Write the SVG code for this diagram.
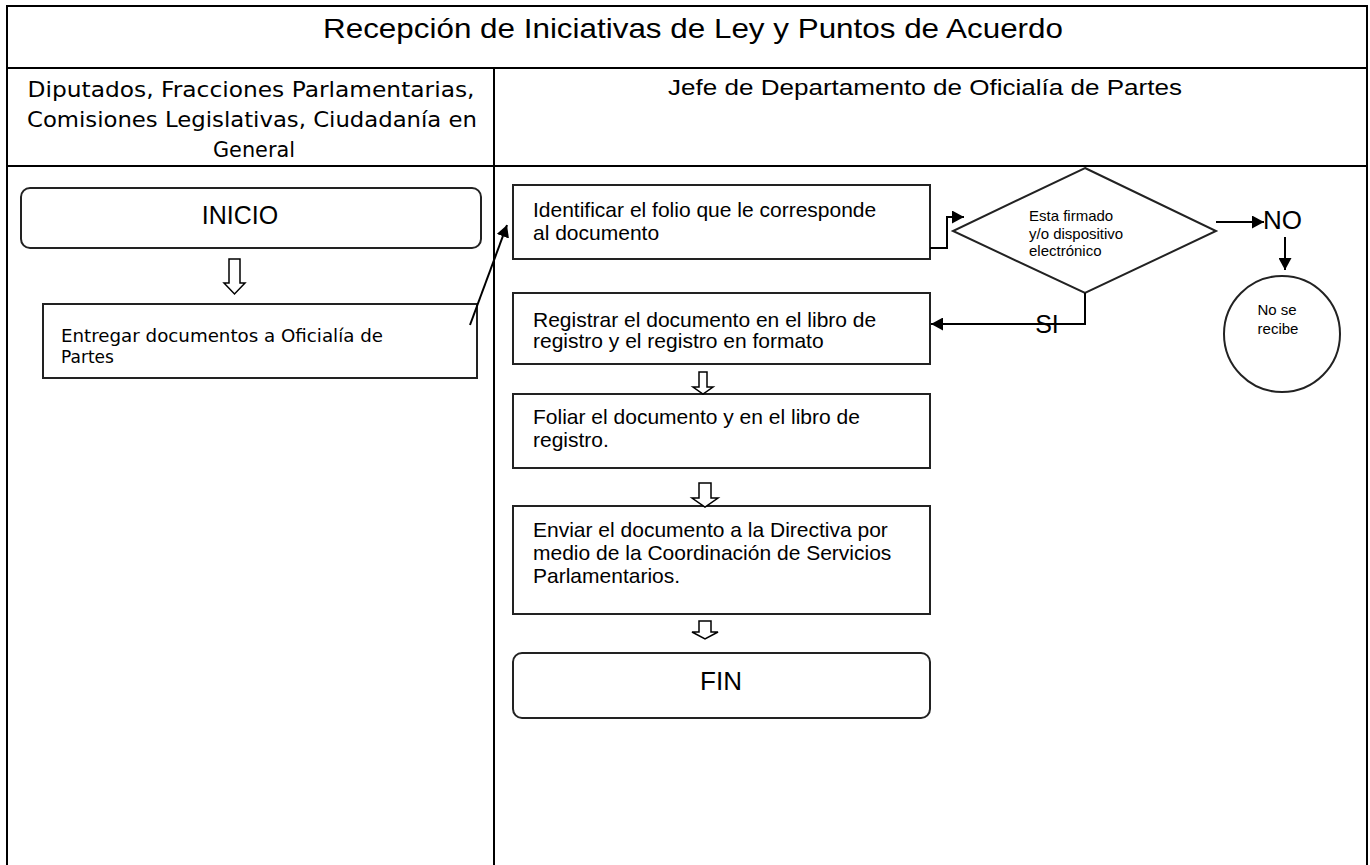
<svg xmlns="http://www.w3.org/2000/svg" width="1370" height="865" viewBox="0 0 1370 865">
<defs>
<style>
.grid{stroke:#000;stroke-width:2;fill:none}
.box{fill:#fff;stroke:#222;stroke-width:2}
.t{font-family:"Liberation Sans",Arial,sans-serif;fill:#000}
.d{font-family:"DejaVu Sans",Verdana,sans-serif;fill:#000}
.con{stroke:#000;stroke-width:2;fill:none}
.hollow{fill:#fff;stroke:#000;stroke-width:1.5}
</style>
<marker id="ah" markerUnits="userSpaceOnUse" markerWidth="13" markerHeight="13" refX="12" refY="6.5" orient="auto">
<path d="M0,0 L12,6.5 L0,13 z" fill="#000"/>
</marker>
</defs>
<rect width="1370" height="865" fill="#fff"/>
<g id="table">
<path class="grid" d="M7,865 V6 H1367 V865 M7,68 H1367 M7,166 H1367 M494,68 V865"/>
<text class="t" x="323" y="38" font-size="28" textLength="740" lengthAdjust="spacingAndGlyphs">Recepción de Iniciativas de Ley y Puntos de Acuerdo</text>
<text class="d" x="251" y="97" font-size="22" text-anchor="middle" textLength="447" lengthAdjust="spacingAndGlyphs">Diputados, Fracciones Parlamentarias,</text>
<text class="d" x="252" y="127" font-size="22" text-anchor="middle" textLength="450" lengthAdjust="spacingAndGlyphs">Comisiones Legislativas, Ciudadanía en</text>
<text class="d" x="254" y="157" font-size="22" text-anchor="middle" textLength="82" lengthAdjust="spacingAndGlyphs">General</text>
<text class="t" x="668" y="95" font-size="22" textLength="514" lengthAdjust="spacingAndGlyphs">Jefe de Departamento de Oficialía de Partes</text>
</g>
<g id="inicio">
<rect class="box" x="21" y="188" width="460" height="60" rx="9"/>
<text class="t" x="240" y="224" font-size="25" text-anchor="middle">INICIO</text>
</g>
<g id="entregar">
<rect class="box" x="43" y="304" width="434" height="74"/>
<text class="d" x="61" y="342" font-size="17" textLength="322" lengthAdjust="spacingAndGlyphs">Entregar documentos a Oficialía de</text>
<text class="d" x="61" y="363" font-size="17">Partes</text>
</g>
<g id="identificar">
<rect class="box" x="513" y="185" width="417" height="74"/>
<text class="t" x="533" y="217" font-size="21">Identificar el folio que le corresponde</text>
<text class="t" x="533" y="240" font-size="21">al documento</text>
</g>
<g id="decision">
<polygon class="box" points="1085,168 1216,231 1085,293 953,231"/>
<text class="t" x="1029" y="221" font-size="15">Esta firmado</text>
<text class="t" x="1029" y="239" font-size="15">y/o dispositivo</text>
<text class="t" x="1029" y="256" font-size="15">electrónico</text>
</g>
<g id="no-label">
<text class="t" x="1263" y="229" font-size="26">NO</text>
</g>
<g id="no-se-recibe">
<circle class="box" cx="1282" cy="334" r="58"/>
<text class="t" x="1277" y="315" font-size="15" text-anchor="middle">No se</text>
<text class="t" x="1278" y="334" font-size="15" text-anchor="middle">recibe</text>
</g>
<g id="registrar">
<rect class="box" x="513" y="293" width="417" height="71"/>
<text class="t" x="533" y="327" font-size="21">Registrar el documento en el libro de</text>
<text class="t" x="533" y="348" font-size="21">registro y el registro en formato</text>
</g>
<g id="foliar">
<rect class="box" x="513" y="394" width="417" height="74"/>
<text class="t" x="533" y="424" font-size="21">Foliar el documento y en el libro de</text>
<text class="t" x="533" y="447" font-size="21">registro.</text>
</g>
<g id="enviar">
<rect class="box" x="513" y="506" width="417" height="108"/>
<text class="t" x="533" y="537" font-size="21">Enviar el documento a la Directiva por</text>
<text class="t" x="533" y="560" font-size="21">medio de la Coordinación de Servicios</text>
<text class="t" x="533" y="583" font-size="21">Parlamentarios.</text>
</g>
<g id="fin">
<rect class="box" x="513" y="653" width="417" height="65" rx="9"/>
<text class="t" x="721" y="690" font-size="26" text-anchor="middle">FIN</text>
</g>
<g id="connectors">
<line class="con" x1="470" y1="325" x2="507" y2="225" marker-end="url(#ah)"/>
<polyline class="con" points="930,248 947,248 947,217 964,217" marker-end="url(#ah)"/>
<polyline class="con" points="1085,293 1085,324 931,324" marker-end="url(#ah)"/>
<line class="con" x1="1216" y1="222" x2="1264" y2="222" marker-end="url(#ah)"/>
<line class="con" x1="1285" y1="237" x2="1285" y2="270" marker-end="url(#ah)"/>
<polygon class="hollow" points="229,259 240,259 240,283 245,283 234.5,294 224,283 229,283"/>
<polygon class="hollow" points="699,372 707,372 707,387 713,387 703,394 693,387 699,387"/>
<polygon class="hollow" points="699,483 711,483 711,498 718,498 705,507 692,498 699,498"/>
<polygon class="hollow" points="699,621 711,621 711,632 718,632 705,639 692,632 699,632"/>
</g>
<text class="t" x="1047" y="333" font-size="25" text-anchor="middle">SI</text>
</svg>
